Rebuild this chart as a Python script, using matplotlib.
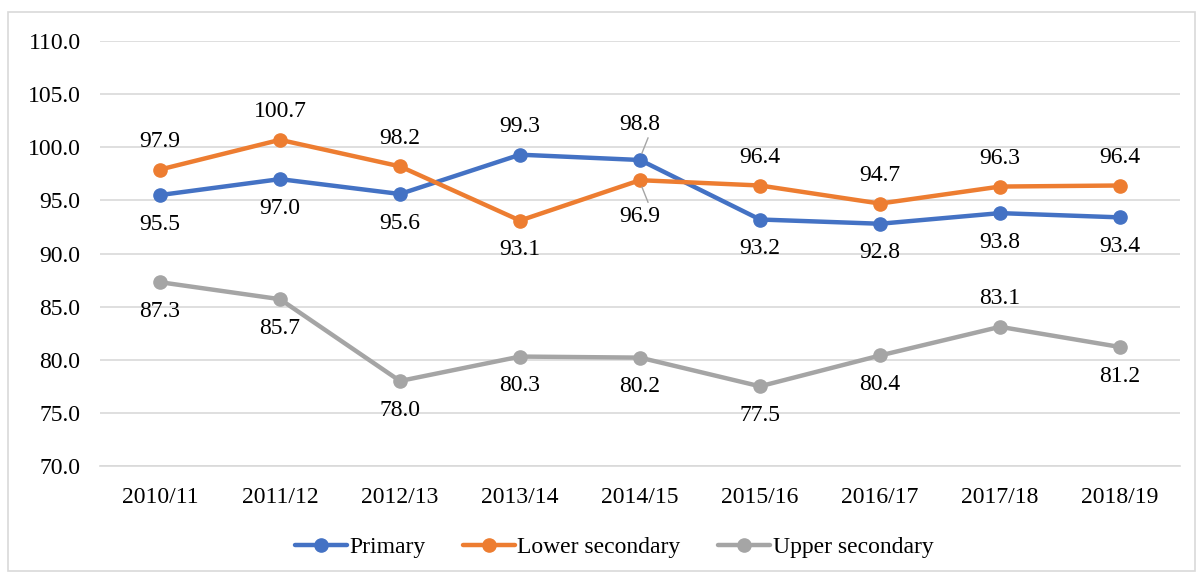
import matplotlib
matplotlib.use("Agg")
import matplotlib.pyplot as plt
from matplotlib.patches import Rectangle

years = ["2010/11", "2011/12", "2012/13", "2013/14", "2014/15",
         "2015/16", "2016/17", "2017/18", "2018/19"]
primary = [95.5, 97.0, 95.6, 99.3, 98.8, 93.2, 92.8, 93.8, 93.4]
lower_secondary = [97.9, 100.7, 98.2, 93.1, 96.9, 96.4, 94.7, 96.3, 96.4]
upper_secondary = [87.3, 85.7, 78.0, 80.3, 80.2, 77.5, 80.4, 83.1, 81.2]

# label placement: +1 above, -1 below
primary_pos = [-1, -1, -1, 1, 1, -1, -1, -1, -1]
lower_pos = [1, 1, 1, -1, -1, 1, 1, 1, 1]
upper_pos = [-1, -1, -1, -1, -1, -1, -1, 1, -1]

plt.rcParams['font.family'] = ['Liberation Serif', 'DejaVu Serif']
FS = 17

fig = plt.figure(figsize=(11.98, 5.73), dpi=100)
ax = fig.add_axes([100/1198, 1-466/573, 1080/1198, (466-41)/573])

colors = ["#4472C4", "#ED7D31", "#A5A5A5"]
names = ["Primary", "Lower secondary", "Upper secondary"]
series = [primary, lower_secondary, upper_secondary]
positions = [primary_pos, lower_pos, upper_pos]
x = list(range(len(years)))

for vals, c, n in zip(series, colors, names):
    ax.plot(x, vals, color=c, lw=3.2, marker='o', ms=9.5, label=n, zorder=3,
            solid_capstyle='round')

ax.set_xlim(-0.5, len(years) - 0.5)
ax.set_ylim(70, 110)
ax.set_yticks([70, 75, 80, 85, 90, 95, 100, 105, 110])
ax.set_yticklabels([f"{t:.1f}" for t in [70, 75, 80, 85, 90, 95, 100, 105, 110]])
ax.set_xticks(x)
ax.set_xticklabels(years)
ax.tick_params(axis='both', length=0, labelsize=FS, colors='black')
ax.tick_params(axis='y', pad=14)
ax.tick_params(axis='x', pad=15)
ax.grid(axis='y', color='#D9D9D9', lw=1.2)
ax.set_axisbelow(True)
for s in ['top', 'right', 'left']:
    ax.spines[s].set_visible(False)
ax.spines['bottom'].set_color('#D9D9D9')
ax.spines['bottom'].set_linewidth(1.2)

for vals, pos, si in zip(series, positions, range(3)):
    for i, (v, p) in enumerate(zip(vals, pos)):
        leader = (i == 4 and si in (0, 1))
        off = 28 if p > 0 else -29
        if leader:
            off = 36 if p > 0 else -36
        ax.annotate(f"{v:.1f}", (i, v), xytext=(0, off), textcoords='offset pixels',
                    ha='center', va='center', fontsize=FS, color='black', zorder=4)
        if leader:
            sgn = 1 if p > 0 else -1
            x0, y0 = ax.transData.transform((i, v))
            fx0 = (x0 + 2) / fig.bbox.width
            fy0 = (y0 + 7*sgn) / fig.bbox.height
            fx1 = (x0 + 8) / fig.bbox.width
            fy1 = (y0 + 22*sgn) / fig.bbox.height
            fig.add_artist(plt.Line2D([fx0, fx1], [fy0, fy1], color='#A5A5A5', lw=1, zorder=5))

fig.legend(loc='center', bbox_to_anchor=(614/1198, 1-547/573), ncol=3, frameon=False,
           fontsize=FS, handlelength=2.2, handletextpad=0.1, columnspacing=1.6)

fig.add_artist(Rectangle((8/1198, 2/573), 1187/1198, 559/573, transform=fig.transFigure,
                         fill=False, edgecolor='#D9D9D9', lw=1.2))

fig.savefig("out.png", dpi=100)
